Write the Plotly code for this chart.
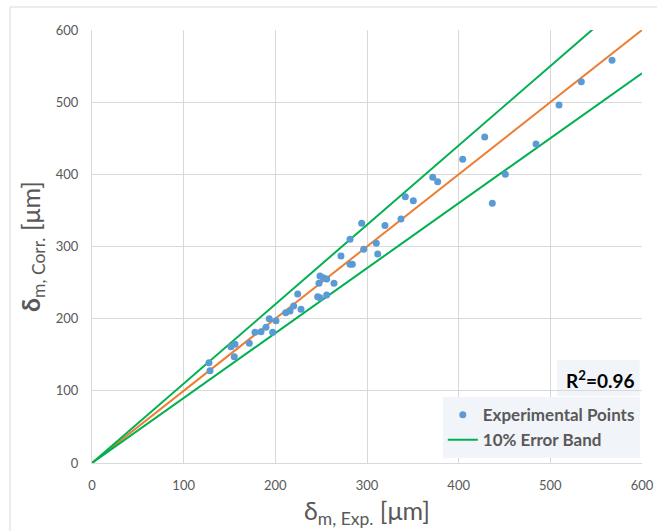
import plotly.graph_objects as go

# Experimental vs correlated values
exp_x = [127.6, 128.7, 151.6, 156.0, 155.2, 171.6, 177.8, 184.4, 189.8, 193.4,
         200.7, 197.1, 211.3, 216.0, 220.0, 224.4, 228.0, 246.2, 248.7, 256.0,
         247.6, 248.7, 252.3, 256.0, 264.0, 271.6, 281.5, 284.0, 281.5, 294.2,
         296.4, 310.1, 311.7, 319.6, 337.1, 341.8, 350.5, 371.7, 377.1, 404.4,
         428.4, 436.7, 450.9, 484.4, 509.5, 533.8, 567.3]
corr_y = [139.0, 127.9, 161.1, 164.5, 147.3, 165.9, 181.1, 181.9, 188.0, 200.0,
          197.2, 181.1, 208.3, 210.6, 217.5, 234.2, 213.0, 230.4, 229.0, 232.8,
          249.0, 259.1, 256.8, 255.0, 249.0, 286.8, 275.3, 275.3, 310.0, 332.1,
          296.1, 304.4, 289.6, 329.0, 338.1, 369.0, 363.4, 395.9, 389.8, 420.8,
          451.7, 359.8, 400.0, 442.0, 496.0, 528.3, 558.0]

line_x = [0, 600]
fit_slope = 1.0
band_upper = 1.1
band_lower = 0.9
r2_value = 0.96

tick_vals = [0, 100, 200, 300, 400, 500, 600]

BLUE = "#5B9BD5"
ORANGE = "#ED7D31"
GREEN = "#00B050"
GRAY = "#595959"
FONT = "Lato, Open Sans, sans-serif"

fig = go.Figure()

fig.add_trace(go.Scatter(
    x=line_x, y=[fit_slope * v for v in line_x], mode="lines",
    line=dict(color=ORANGE, width=2), showlegend=False, hoverinfo="skip"))
fig.add_trace(go.Scatter(
    x=line_x, y=[band_upper * v for v in line_x], mode="lines",
    line=dict(color=GREEN, width=2), name="10% Error Band", legendrank=2))
fig.add_trace(go.Scatter(
    x=line_x, y=[band_lower * v for v in line_x], mode="lines",
    line=dict(color=GREEN, width=2), showlegend=False))
fig.add_trace(go.Scatter(
    x=exp_x, y=corr_y, mode="markers",
    marker=dict(color=BLUE, size=7), name="Experimental Points", legendrank=1))

axis_common = dict(
    range=[0, 600], tickvals=tick_vals, showgrid=True, gridcolor="#D9D9D9",
    gridwidth=1, zeroline=False, showline=True, linecolor="#D9D9D9",
    tickfont=dict(family=FONT, size=13, color=GRAY), ticks="",
    ticklabelstandoff=10, fixedrange=True, automargin=False,
)

fig.update_layout(
    width=657, height=531,
    margin=dict(l=92, r=15, t=30, b=68, autoexpand=False),
    paper_bgcolor="white", plot_bgcolor="white",
    xaxis=dict(**axis_common,
               title=dict(text="δ<sub>m, Exp.</sub> [μm]",
                          font=dict(family=FONT, size=25, color=GRAY), standoff=10)),
    yaxis=dict(**axis_common,
               title=dict(text="<b>δ</b><sub>m, Corr.</sub> [μm]",
                          font=dict(family=FONT, size=25, color=GRAY), standoff=8)),
    legend=dict(
        x=0.996, y=0.152, xanchor="right", yanchor="top",
        bgcolor="#F1F5FA", borderwidth=0,
        font=dict(family=FONT, size=17, color=GRAY, weight="bold"),
        itemwidth=30, tracegroupgap=0,
    ),
    showlegend=True,
)

fig.add_shape(type="rect", xref="paper", yref="paper",
              x0=(557 - 92) / 550, x1=0.996, y0=(463 - 396) / 433, y1=(463 - 360) / 433,
              fillcolor="#F1F5FA", line=dict(width=0), layer="below")

fig.add_annotation(
    xref="paper", yref="paper", x=0.99, y=(463 - 379) / 433,
    xanchor="right", yanchor="middle", showarrow=False,
    text=f"<b>R<sup>2</sup>={r2_value:.2f}</b>",
    font=dict(family=FONT, size=19, color="black"))

# chart area border (left and top edges visible)
fig.add_shape(type="line", xref="paper", yref="paper",
              x0=(10 - 92) / 550, x1=(10 - 92) / 550, y0=-0.2, y1=(463 - 7) / 433,
              line=dict(color="#D9D9D9", width=1))
fig.add_shape(type="line", xref="paper", yref="paper",
              x0=(10 - 92) / 550, x1=1.03, y0=(463 - 7) / 433, y1=(463 - 7) / 433,
              line=dict(color="#D9D9D9", width=1))

fig.write_html("out.html")
